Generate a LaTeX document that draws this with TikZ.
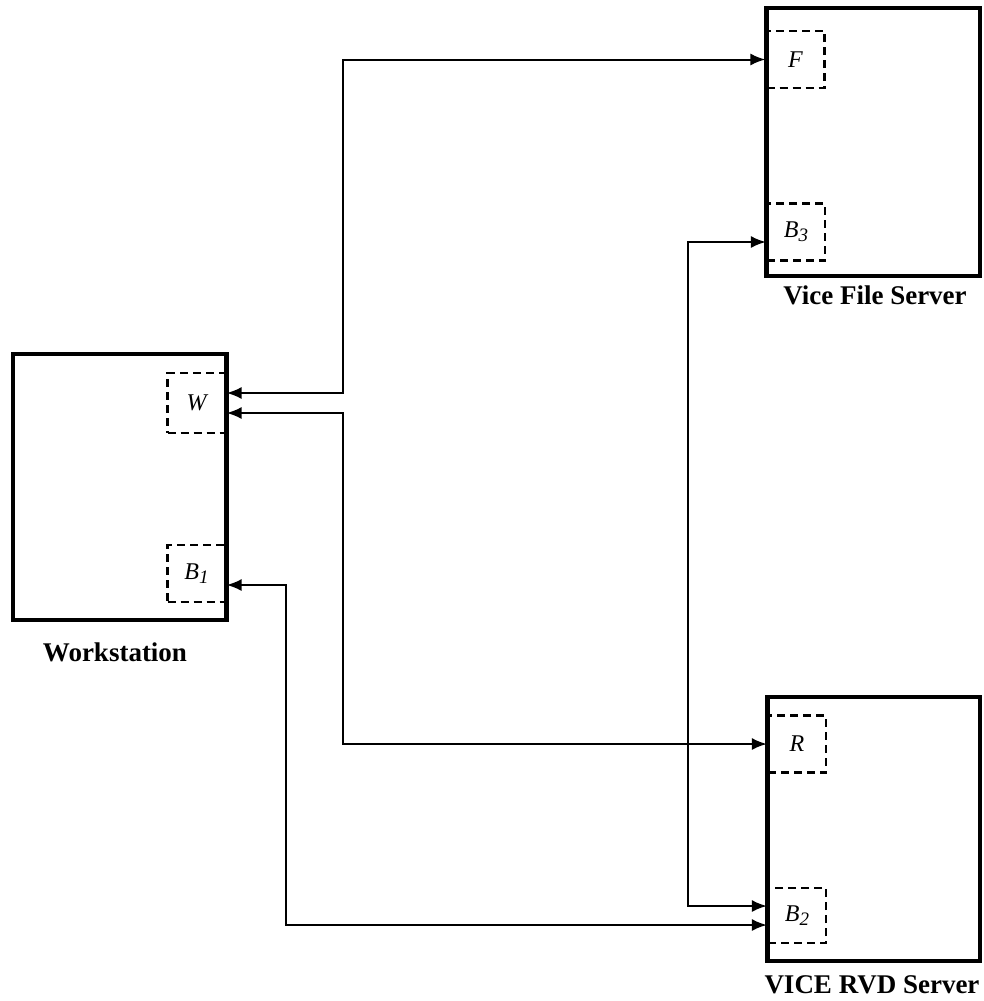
\documentclass[tikz,border=0pt]{standalone}
\usepackage{fontspec}
\setmainfont{Liberation Serif}
\usetikzlibrary{arrows.meta}
\begin{document}
\begin{tikzpicture}[x=1pt,y=-1pt,
  mainbox/.style={draw,line width=3.2pt,inner sep=0pt,rectangle},
  subbox/.style={draw,dashed,dash pattern=on 8pt off 5pt,line width=2.2pt,inner sep=0pt,rectangle,
     minimum width=58pt,minimum height=57pt,font=\fontsize{24}{26}\selectfont\itshape},
  boxlabel/.style={font=\fontsize{27}{29}\selectfont\bfseries},
  conn/.style={line width=2pt,{Latex[length=15pt,width=12pt]}-{Latex[length=15pt,width=12pt]}}]
\useasboundingbox (0,0) rectangle (983,1001);
% main boxes
\node[mainbox,minimum width=213pt,minimum height=266pt] (ws) at (119.5,487) {};
\node[mainbox,minimum width=213pt,minimum height=268pt] (vfs) at (873.5,142) {};
\node[mainbox,minimum width=212pt,minimum height=264pt] (rvd) at (874,829) {};
% labels
\node[boxlabel] (wsl) at (115,652) {Workstation};
\node[boxlabel] (vfsl) at (875,295) {Vice File Server};
\node[boxlabel] (rvdl) at (872,985) {VICE RVD Server};
% dashed sub-boxes
\node[subbox,minimum height=60pt] (W) at (196.5,403) {W};
\node[subbox] (B1) at (196.5,573.5) {B\raisebox{-0.4ex}{\fontsize{19}{20}\selectfont 1}};
\node[subbox] (F) at (795.5,59.5) {F};
\node[subbox] (B3) at (796,232) {B\raisebox{-0.4ex}{\fontsize{19}{20}\selectfont 3}};
\node[subbox] (R) at (797,744) {R};
\node[subbox,minimum height=55pt] (B2) at (797,915.5) {B\raisebox{-0.4ex}{\fontsize{19}{20}\selectfont 2}};
% redraw main box edges on top
\draw[line width=3.2pt] (ws.north east) -- (ws.south east);
\draw[line width=3.2pt] (vfs.north west) -- (vfs.south west);
\draw[line width=3.2pt] (rvd.north west) -- (rvd.south west);
% connectors
\draw[conn] ([yshift=10pt]W.east) -- ++(116,0) |- (F.west);
\draw[conn] ([yshift=-10pt]W.east) -- ++(116,0) |- (R.west);
\draw[conn] ([yshift=-11.5pt]B1.east) -- ++(59,0) |- ([yshift=-9.5pt]B2.west);
\draw[conn] ([yshift=-10pt]B3.west) -- ++(-78,0) |- ([yshift=9.5pt]B2.west);
\end{tikzpicture}
\end{document}
